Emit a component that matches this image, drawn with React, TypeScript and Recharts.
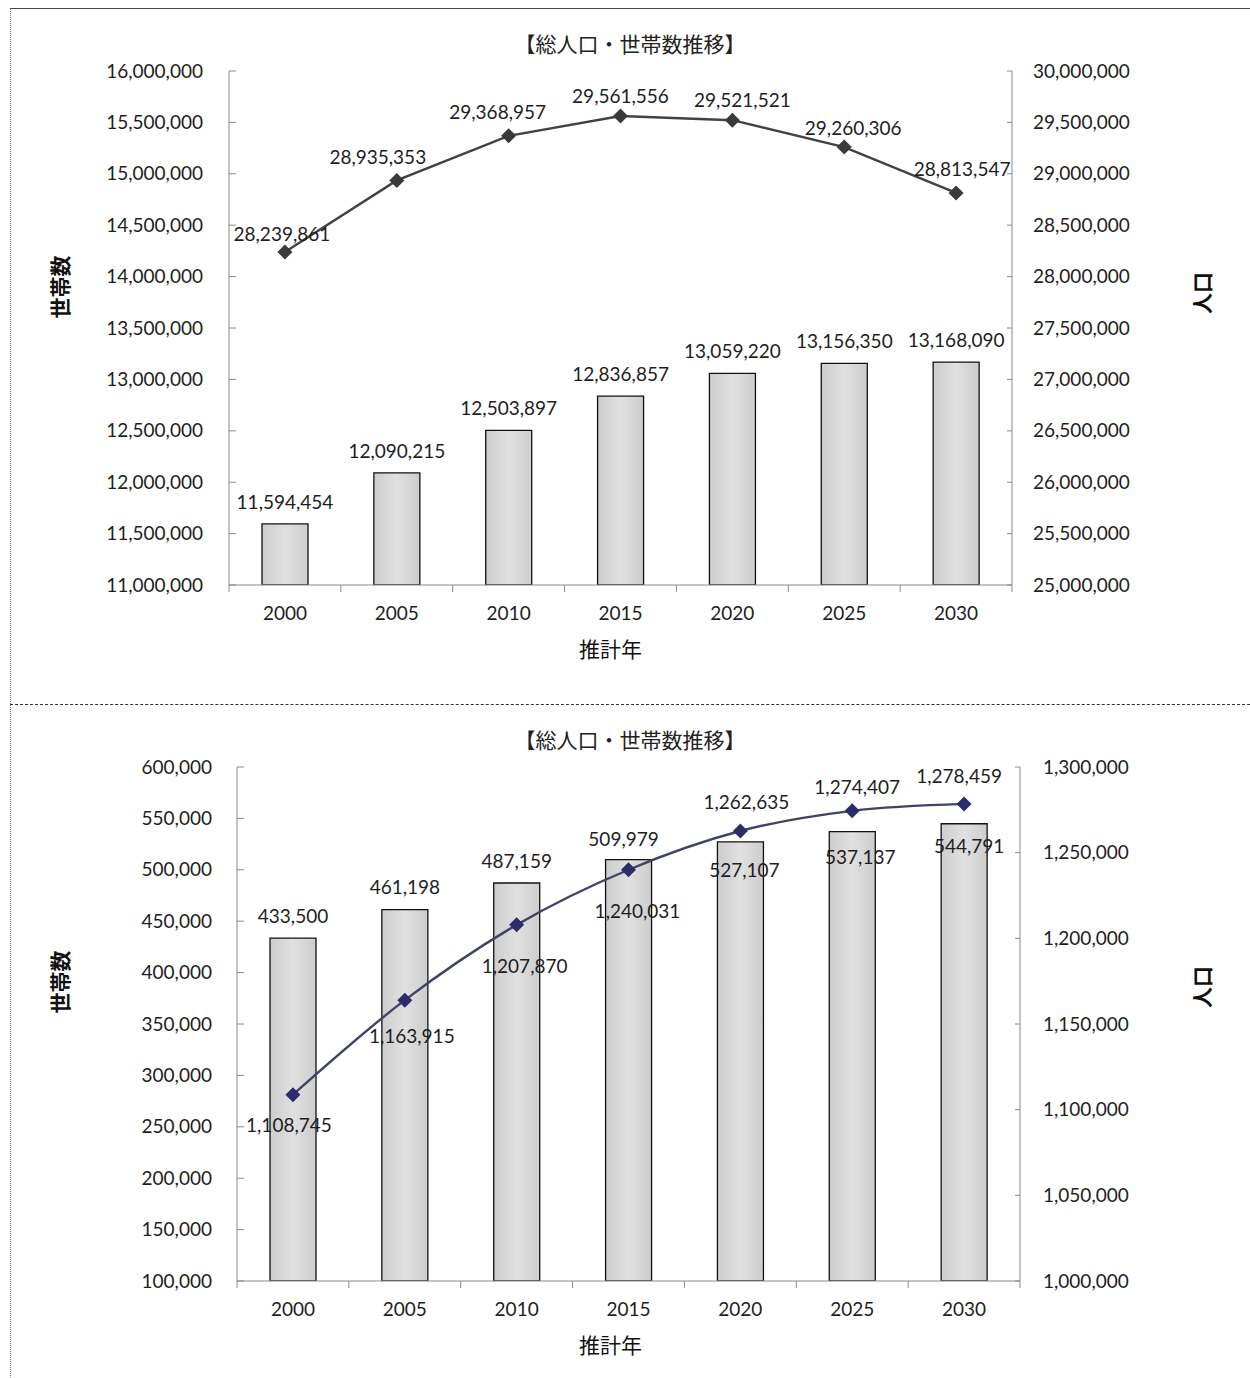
import { ComposedChart, Bar, Line, XAxis, YAxis, LabelList } from "recharts";

const YEARS = ["2000", "2005", "2010", "2015", "2020", "2025", "2030"];

// 上段：世帯数（棒）と総人口（折れ線）
const HOUSEHOLDS_UPPER = [11594454, 12090215, 12503897, 12836857, 13059220, 13156350, 13168090];
const POPULATION_UPPER = [28239861, 28935353, 29368957, 29561556, 29521521, 29260306, 28813547];
const HOUSEHOLD_TICKS_UPPER = [
  11000000, 11500000, 12000000, 12500000, 13000000, 13500000, 14000000, 14500000, 15000000,
  15500000, 16000000,
];
const POPULATION_TICKS_UPPER = [
  25000000, 25500000, 26000000, 26500000, 27000000, 27500000, 28000000, 28500000, 29000000,
  29500000, 30000000,
];

// 下段
const HOUSEHOLDS_LOWER = [433500, 461198, 487159, 509979, 527107, 537137, 544791];
const POPULATION_LOWER = [1108745, 1163915, 1207870, 1240031, 1262635, 1274407, 1278459];
const HOUSEHOLD_TICKS_LOWER = [
  100000, 150000, 200000, 250000, 300000, 350000, 400000, 450000, 500000, 550000, 600000,
];
const POPULATION_TICKS_LOWER = [1000000, 1050000, 1100000, 1150000, 1200000, 1250000, 1300000];

const TITLE = "【総人口・世帯数推移】";

const FONT = "Lato, 'Noto Sans CJK JP', sans-serif";
const JP_FONT = "'Noto Sans CJK JP', sans-serif";
const TEXT_COLOR = "#1e1e1e";
const AXIS_COLOR = "#8a8a8a";
const FONT_SIZE = 19;
const WIDTH = 1250;

const fmt = (v: number) => Number(v).toLocaleString("en-US");

type ChartProps = {
  id: string;
  top: number;
  height: number;
  marginTop: number;
  marginBottom: number;
  leftWidth: number;
  rightWidth: number;
  households: number[];
  population: number[];
  leftTicks: number[];
  rightTicks: number[];
  leftGap: number;
  rightGap: number;
  lineColor: string;
  dotColor: string;
  curve: "linear" | "monotone";
  barLabelDx: number[];
  barLabelDy: number[];
  lineLabelDx: number[];
  lineLabelDy: number[];
  leftTitleShift: number;
  rightTitleX: number;
  rightTitleShift: number;
  xTitleShift: number;
};

// ひし形マーカー
const diamond = (color: string) => (props: any) => {
  const { cx, cy, index } = props;
  if (cx == null || cy == null) return <g key={index} />;
  const r = 7.5;
  return (
    <path
      key={`d-${index}`}
      d={`M${cx},${cy - r}L${cx + r},${cy}L${cx},${cy + r}L${cx - r},${cy}Z`}
      fill={color}
    />
  );
};

const valueText = (x: number, y: number, value: number, key: string) => (
  <text
    key={key}
    x={x}
    y={y}
    dy="0.35em"
    textAnchor="middle"
    fontSize={FONT_SIZE}
    fontFamily={FONT}
    fill={TEXT_COLOR}
  >
    {fmt(value)}
  </text>
);

function PopulationChart(p: ChartProps) {
  const data = YEARS.map((year, i) => ({
    year,
    households: p.households[i],
    population: p.population[i],
  }));
  const plotWidth = WIDTH - p.leftWidth - p.rightWidth;
  const halfBand = plotWidth / YEARS.length / 2;
  const xGap = 28;

  // 目盛線はプロットの内側に向ける
  const leftTick = (props: any) => {
    const { x, y, payload } = props;
    const axisX = x + p.leftGap;
    return (
      <g>
        <line x1={axisX} x2={axisX + 7} y1={y} y2={y} stroke={AXIS_COLOR} />
        <text x={x} y={y} dy="0.35em" textAnchor="end" fontSize={FONT_SIZE} fontFamily={FONT} fill={TEXT_COLOR}>
          {fmt(payload.value)}
        </text>
      </g>
    );
  };

  const rightTick = (props: any) => {
    const { x, y, payload } = props;
    const axisX = x - p.rightGap;
    return (
      <g>
        <line x1={axisX} x2={axisX - 5} y1={y} y2={y} stroke={AXIS_COLOR} />
        <text x={x} y={y} dy="0.35em" textAnchor="start" fontSize={FONT_SIZE} fontFamily={FONT} fill={TEXT_COLOR}>
          {fmt(payload.value)}
        </text>
      </g>
    );
  };

  // 横軸の目盛線は区間の境目に引く
  const xTick = (props: any) => {
    const { x, y, payload, index } = props;
    const axisY = y - xGap;
    return (
      <g>
        <line x1={x - halfBand} x2={x - halfBand} y1={axisY} y2={axisY + 7} stroke={AXIS_COLOR} />
        {index === YEARS.length - 1 && (
          <line x1={x + halfBand} x2={x + halfBand} y1={axisY} y2={axisY + 7} stroke={AXIS_COLOR} />
        )}
        <text x={x} y={y} dy="0.35em" textAnchor="middle" fontSize={FONT_SIZE} fontFamily={FONT} fill={TEXT_COLOR}>
          {payload.value}
        </text>
      </g>
    );
  };

  const leftTitle = (props: any) => {
    const vb = props.viewBox;
    const cx = vb.x + 61;
    const cy = vb.y + vb.height / 2 + p.leftTitleShift;
    return (
      <text
        x={cx}
        y={cy}
        transform={`rotate(-90 ${cx} ${cy})`}
        textAnchor="middle"
        dy="0.35em"
        fontSize={21}
        fontWeight={700}
        fontFamily={JP_FONT}
        fill="#111"
      >
        世帯数
      </text>
    );
  };

  const rightTitle = (props: any) => {
    const vb = props.viewBox;
    const cx = vb.x + p.rightTitleX;
    const cy = vb.y + vb.height / 2 + p.rightTitleShift;
    return (
      <text
        x={cx}
        y={cy}
        transform={`rotate(-90 ${cx} ${cy})`}
        textAnchor="middle"
        dy="0.35em"
        fontSize={21}
        fontWeight={700}
        fontFamily={JP_FONT}
        fill="#111"
      >
        人口
      </text>
    );
  };

  const xTitle = (props: any) => {
    const vb = props.viewBox;
    return (
      <text
        x={vb.x + vb.width / 2 + p.xTitleShift}
        y={vb.y + 65}
        dy="0.35em"
        textAnchor="middle"
        fontSize={21}
        fontFamily={JP_FONT}
        fill="#111"
      >
        推計年
      </text>
    );
  };

  const barLabel = (props: any) => {
    const { x, y, width, value, index } = props;
    return valueText(
      Number(x) + Number(width) / 2 + p.barLabelDx[index],
      Number(y) + p.barLabelDy[index],
      value,
      `b-${index}`
    );
  };

  const lineLabel = (props: any) => {
    const { x, y, value, index } = props;
    return valueText(Number(x) + p.lineLabelDx[index], Number(y) + p.lineLabelDy[index], value, `l-${index}`);
  };

  const gradId = `barFill-${p.id}`;

  return (
    <div style={{ position: "absolute", left: 0, top: p.top, width: WIDTH, height: p.height }}>
      <div
        style={{
          position: "absolute",
          left: 0,
          width: 1260,
          top: p.marginTop - 42,
          textAlign: "center",
          fontFamily: JP_FONT,
          fontSize: 21,
          lineHeight: "28px",
          color: "#222",
        }}
      >
        {TITLE}
      </div>
      <ComposedChart
        width={WIDTH}
        height={p.height}
        data={data}
        margin={{ top: p.marginTop, right: 0, bottom: p.marginBottom, left: 0 }}
        style={{ position: "absolute", left: 0, top: 0 }}
      >
        <defs>
          <linearGradient id={gradId} x1="0" y1="0" x2="1" y2="0">
            <stop offset="0%" stopColor="#cdcdcd" />
            <stop offset="50%" stopColor="#e0e0e0" />
            <stop offset="100%" stopColor="#cdcdcd" />
          </linearGradient>
        </defs>
        <XAxis
          dataKey="year"
          height={60}
          tickLine={false}
          tickSize={0}
          tickMargin={xGap}
          axisLine={{ stroke: AXIS_COLOR }}
          tick={xTick}
          interval={0}
          label={{ content: xTitle }}
        />
        <YAxis
          yAxisId="left"
          orientation="left"
          type="number"
          width={p.leftWidth}
          domain={[p.leftTicks[0], p.leftTicks[p.leftTicks.length - 1]]}
          ticks={p.leftTicks}
          interval={0}
          allowDataOverflow
          tickLine={false}
          tickSize={0}
          tickMargin={p.leftGap}
          axisLine={{ stroke: AXIS_COLOR }}
          tick={leftTick}
          label={{ content: leftTitle }}
        />
        <YAxis
          yAxisId="right"
          orientation="right"
          type="number"
          width={p.rightWidth}
          domain={[p.rightTicks[0], p.rightTicks[p.rightTicks.length - 1]]}
          ticks={p.rightTicks}
          interval={0}
          allowDataOverflow
          tickLine={false}
          tickSize={0}
          tickMargin={p.rightGap}
          axisLine={{ stroke: AXIS_COLOR }}
          tick={rightTick}
          label={{ content: rightTitle }}
        />
        <Bar
          yAxisId="left"
          dataKey="households"
          barSize={46}
          fill={`url(#${gradId})`}
          stroke="#111"
          strokeWidth={1.3}
          isAnimationActive={false}
        >
          <LabelList dataKey="households" content={barLabel} />
        </Bar>
        <Line
          yAxisId="right"
          type={p.curve}
          dataKey="population"
          stroke={p.lineColor}
          strokeWidth={2.4}
          dot={diamond(p.dotColor)}
          activeDot={false}
          isAnimationActive={false}
        >
          <LabelList dataKey="population" content={lineLabel} />
        </Line>
      </ComposedChart>
    </div>
  );
}

export default function App() {
  return (
    <div
      style={{
        position: "absolute",
        left: 0,
        top: 0,
        width: WIDTH,
        height: 1378,
        background: "#fff",
        overflow: "hidden",
        fontFamily: FONT,
      }}
    >
      <PopulationChart
        id="upper"
        top={0}
        height={705}
        marginTop={71}
        marginBottom={60}
        leftWidth={229}
        rightWidth={238}
        households={HOUSEHOLDS_UPPER}
        population={POPULATION_UPPER}
        leftTicks={HOUSEHOLD_TICKS_UPPER}
        rightTicks={POPULATION_TICKS_UPPER}
        leftGap={26}
        rightGap={21}
        lineColor="#424242"
        dotColor="#3a3a3a"
        curve="linear"
        barLabelDx={[0, 0, 0, 0, 0, 0, 0]}
        barLabelDy={[-22, -22, -22, -22, -22, -22, -22]}
        lineLabelDx={[-3, -19, -11, 0, 10, 9, 6]}
        lineLabelDy={[-18, -23, -24, -20, -20, -19, -24]}
        leftTitleShift={-41}
        rightTitleX={191}
        rightTitleShift={-35}
        xTitleShift={-10}
      />
      <PopulationChart
        id="lower"
        top={705}
        height={673}
        marginTop={62}
        marginBottom={37}
        leftWidth={237}
        rightWidth={230}
        households={HOUSEHOLDS_LOWER}
        population={POPULATION_LOWER}
        leftTicks={HOUSEHOLD_TICKS_LOWER}
        rightTicks={POPULATION_TICKS_LOWER}
        leftGap={25}
        rightGap={23}
        lineColor="#3f4463"
        dotColor="#2c2b6b"
        curve="monotone"
        barLabelDx={[0, 0, 0, -5, 4, 8, 5]}
        barLabelDy={[-22, -22, -22, -20, 28, 26, 23]}
        lineLabelDx={[-4, 7, 8, 9, 6, 5, -5]}
        lineLabelDy={[31, 36, 42, 42, -29, -23, -28]}
        leftTitleShift={-42}
        rightTitleX={183}
        rightTitleShift={-37}
        xTitleShift={-18}
      />
      {/* 枠線 */}
      <div style={{ position: "absolute", left: 10, top: 8, width: 1240, borderTop: "1.5px solid #4a4a4a" }} />
      <div style={{ position: "absolute", left: 10, top: 9, height: 1369, borderLeft: "1px dotted #7a7a7a" }} />
      <div style={{ position: "absolute", left: 10, top: 704, width: 1240, borderTop: "1.5px dashed #333" }} />
    </div>
  );
}
